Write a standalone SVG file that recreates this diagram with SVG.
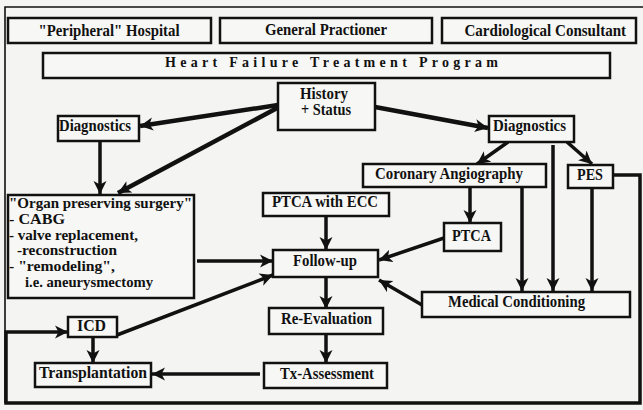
<svg xmlns="http://www.w3.org/2000/svg" width="643" height="410" viewBox="0 0 643 410">
<style>
  .bg { fill: #f4f4f2; }
  .box { fill: #f7f7f5; stroke: #111; stroke-width: 2.5; }
  .t { font-family: "Liberation Serif", "Times New Roman", serif; font-weight: bold; font-size: 16px; fill: #111; }
  .s { font-size: 14.2px; }
  .c { fill: none; stroke: #111; stroke-width: 3.5; }
  .ch { fill: none; stroke: #111; stroke-width: 4.5; }
  .frame { fill: none; stroke: #111; stroke-width: 1.6; }
</style>
<defs>
  <marker id="ah" markerUnits="userSpaceOnUse" markerWidth="14" markerHeight="14" refX="13" refY="7" orient="auto">
    <path d="M0,0.5 L13,7 L0,13.5 L3.5,7 z" fill="#111"/>
  </marker>
</defs>
<rect class="bg" x="0" y="0" width="643" height="410"/>
<path class="frame" d="M643,7 H5 V403"/>

<g id="connectors">
  <line class="ch" x1="278" y1="105" x2="140" y2="126" marker-end="url(#ah)"/>
  <line class="ch" x1="279" y1="107" x2="118" y2="193" marker-end="url(#ah)"/>
  <line class="ch" x1="375" y1="107" x2="488" y2="128" marker-end="url(#ah)"/>
  <line class="c" x1="100" y1="141" x2="100" y2="194" marker-end="url(#ah)"/>
  <line class="c" x1="508" y1="142" x2="477" y2="164" marker-end="url(#ah)"/>
  <line class="c" x1="567" y1="142" x2="592" y2="164" marker-end="url(#ah)"/>
  <line class="c" x1="553" y1="145" x2="553" y2="291" marker-end="url(#ah)"/>
  <line class="c" x1="470" y1="187" x2="470" y2="223" marker-end="url(#ah)"/>
  <line class="c" x1="522" y1="187" x2="522" y2="291" marker-end="url(#ah)"/>
  <line class="c" x1="592" y1="188" x2="592" y2="291" marker-end="url(#ah)"/>
  <path class="c" d="M613,175 H640 V403 H6 V332 H68" marker-end="url(#ah)"/>
  <line class="c" x1="444" y1="238" x2="379" y2="260" marker-end="url(#ah)"/>
  <line class="c" x1="422" y1="305" x2="379" y2="280" marker-end="url(#ah)"/>
  <line class="c" x1="326" y1="216" x2="326" y2="250" marker-end="url(#ah)"/>
  <line class="c" x1="197" y1="261" x2="273" y2="261" marker-end="url(#ah)"/>
  <line class="c" x1="117" y1="335" x2="273" y2="275" marker-end="url(#ah)"/>
  <line class="c" x1="326" y1="277" x2="326" y2="309" marker-end="url(#ah)"/>
  <line class="c" x1="326" y1="334" x2="326" y2="363" marker-end="url(#ah)"/>
  <line class="c" x1="260" y1="374" x2="152" y2="374" marker-end="url(#ah)"/>
  <line class="c" x1="93" y1="337" x2="93" y2="363" marker-end="url(#ah)"/>
</g>

<g id="peripheral">
  <rect class="box" x="8" y="18" width="203" height="25"/>
  <text class="t" x="38.5" y="35.5" textLength="141" lengthAdjust="spacingAndGlyphs">"Peripheral" Hospital</text>
</g>
<g id="gp">
  <rect class="box" x="220" y="18" width="212" height="25"/>
  <text class="t" x="265" y="34.5" textLength="122" lengthAdjust="spacingAndGlyphs">General Practioner</text>
</g>
<g id="cardio">
  <rect class="box" x="442" y="18" width="194" height="25"/>
  <text class="t" x="464.5" y="35.5" textLength="161.5" lengthAdjust="spacingAndGlyphs">Cardiological Consultant</text>
</g>
<g id="program">
  <rect class="box" x="43" y="53" width="567" height="25"/>
  <text class="t" x="165" y="67" style="font-size:14px" textLength="333">Heart Failure Treatment Program</text>
</g>
<g id="history">
  <rect class="box" x="278" y="83" width="97" height="47"/>
  <text class="t" x="300" y="98.5" textLength="48" lengthAdjust="spacingAndGlyphs">History</text>
  <text class="t" x="301" y="114.5" textLength="50" lengthAdjust="spacingAndGlyphs">+ Status</text>
</g>
<g id="diag-left">
  <rect class="box" x="58" y="116" width="81" height="25"/>
  <text class="t" x="59" y="130.5" textLength="72" lengthAdjust="spacingAndGlyphs">Diagnostics</text>
</g>
<g id="diag-right">
  <rect class="box" x="489" y="116" width="85" height="26"/>
  <text class="t" x="493" y="131" textLength="73" lengthAdjust="spacingAndGlyphs">Diagnostics</text>
</g>
<g id="coronary">
  <rect class="box" x="363" y="164" width="183" height="23"/>
  <text class="t" x="375" y="179" textLength="148" lengthAdjust="spacingAndGlyphs">Coronary Angiography</text>
</g>
<g id="pes">
  <rect class="box" x="568" y="165" width="45" height="23"/>
  <text class="t" x="577" y="180" textLength="26" lengthAdjust="spacingAndGlyphs">PES</text>
</g>
<g id="surgery">
  <rect class="box" x="8" y="195" width="186" height="103"/>
  <text class="t s" x="9" y="208" textLength="183" lengthAdjust="spacingAndGlyphs">"Organ preserving surgery"</text>
  <text class="t s" x="9" y="223.8" textLength="56" lengthAdjust="spacingAndGlyphs">- CABG</text>
  <text class="t s" x="9" y="239.6" textLength="129" lengthAdjust="spacingAndGlyphs">- valve replacement,</text>
  <text class="t s" x="17" y="255.4" textLength="100" lengthAdjust="spacingAndGlyphs">-reconstruction</text>
  <text class="t s" x="9" y="271.2" textLength="106" lengthAdjust="spacingAndGlyphs">- "remodeling",</text>
  <text class="t s" x="25" y="287" textLength="128" lengthAdjust="spacingAndGlyphs">i.e. aneurysmectomy</text>
</g>
<g id="ptca-ecc">
  <rect class="box" x="263" y="193" width="126" height="23"/>
  <text class="t" x="272" y="206.5" textLength="106" lengthAdjust="spacingAndGlyphs">PTCA with ECC</text>
</g>
<g id="ptca">
  <rect class="box" x="444" y="223" width="57" height="28"/>
  <text class="t" x="452" y="240.5" textLength="39" lengthAdjust="spacingAndGlyphs">PTCA</text>
</g>
<g id="followup">
  <rect class="box" x="273" y="250" width="105" height="27"/>
  <text class="t" x="293" y="265.5" textLength="64" lengthAdjust="spacingAndGlyphs">Follow-up</text>
</g>
<g id="medical">
  <rect class="box" x="422" y="292" width="208" height="25"/>
  <text class="t" x="448" y="306.5" textLength="137" lengthAdjust="spacingAndGlyphs">Medical Conditioning</text>
</g>
<g id="reeval">
  <rect class="box" x="269" y="308" width="114" height="26"/>
  <text class="t" x="281" y="323.5" textLength="91" lengthAdjust="spacingAndGlyphs">Re-Evaluation</text>
</g>
<g id="icd">
  <rect class="box" x="68" y="317" width="49" height="20"/>
  <text class="t" x="77" y="330.5" textLength="29" lengthAdjust="spacingAndGlyphs">ICD</text>
</g>
<g id="txassess">
  <rect class="box" x="264" y="363" width="123" height="25"/>
  <text class="t" x="280" y="378.5" textLength="94" lengthAdjust="spacingAndGlyphs">Tx-Assessment</text>
</g>
<g id="transplant">
  <rect class="box" x="35" y="363" width="116" height="24"/>
  <text class="t" x="39" y="377.5" textLength="108" lengthAdjust="spacingAndGlyphs">Transplantation</text>
</g>
</svg>
